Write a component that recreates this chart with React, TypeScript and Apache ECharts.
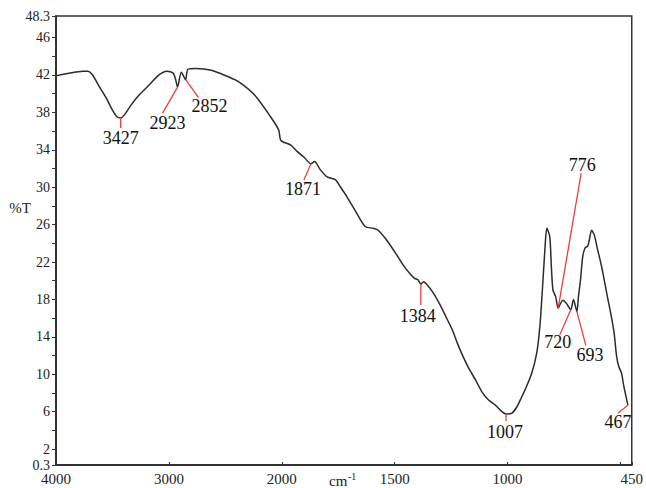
import React, { useEffect, useRef } from "react";
import * as echarts from "echarts";

// FTIR spectrum: wavenumber (cm-1) and transmittance (%T)
const WAVENUMBER = [
  4000, 3877, 3763, 3720, 3676, 3614, 3553, 3500, 3457, 3427, 3396, 3334, 3264,
  3177, 3088, 3018, 2962, 2942, 2923, 2890, 2852, 2832, 2766, 2624, 2474, 2387,
  2241, 2098, 2027, 2008, 1960, 1931, 1901, 1871, 1855, 1829, 1799, 1763, 1741,
  1712, 1668, 1631, 1595, 1573, 1536, 1492, 1463, 1434, 1412, 1397, 1384, 1372,
  1361, 1332, 1303, 1273, 1244, 1222, 1200, 1171, 1142, 1113, 1084, 1054, 1025,
  1007, 981, 959, 937, 923, 893, 871, 857, 843, 832, 826, 813, 806, 799, 787,
  776, 765, 755, 740, 720, 708, 693, 686, 677, 667, 657, 645, 638, 628, 616,
  601, 587, 572, 558, 543, 528, 517, 507, 495, 485, 467,
];
const TRANSMITTANCE = [
  41.9, 42.2, 42.4, 42.4, 42.0, 40.7, 39.5, 38.25, 37.5, 37.4, 37.7, 38.8, 39.85,
  40.9, 42.0, 42.4, 42.2, 41.6, 40.7, 42.3, 41.5, 42.6, 42.7, 42.5, 41.8, 41.3,
  39.85, 37.5, 36.1, 35.0, 34.5, 33.8, 33.2, 32.5, 32.75, 31.85, 31.1, 30.8, 30.05,
  29.0, 27.2, 25.8, 25.6, 25.4, 24.35, 22.8, 21.7, 20.8, 20.25, 20.1, 19.65, 19.9,
  19.7, 18.8, 17.6, 16.15, 14.7, 13.3, 12.05, 10.6, 9.4, 8.1, 7.25, 6.7, 6.0,
  5.75, 5.85, 6.5, 7.6, 8.3, 10.1, 12.25, 15.1, 20.1, 24.35, 25.6, 24.7, 21.5, 19.0, 18.3,
  17.05, 17.6, 17.9, 17.6, 16.9, 18.0, 16.7, 18.3, 20.1, 22.6, 23.5, 23.7, 24.35, 25.4, 24.9,
  23.3, 21.9, 20.1, 18.3, 16.5, 14.4, 11.9, 10.8, 10.1, 8.7, 6.7,
];

// Labelled absorption bands
const PEAKS = [3427, 2923, 2852, 1871, 1384, 1007, 776, 720, 693, 467];

// Axis ticks
const X_LABELS = [4000, 3000, 2000, 1500, 1000, 450];
const X_TICKS = [4000, 3000, 2000, 1500, 1000, 500, 450];
const Y_LABELS = [0.3, 2, 6, 10, 14, 18, 22, 26, 30, 34, 38, 42, 46, 48.3];
const Y_TICKS = [0.3, 2, 4, 6, 8, 10, 12, 14, 16, 18, 20, 22, 24, 26, 28, 30, 32, 34, 36, 38, 40, 42, 44, 46, 48.3];

// Leader line end and label centre, in pixels relative to the band point
const LEADER_LAYOUT: Record<number, [number, number, number, number]> = {
  3427: [0, 10, 0, 20],
  2923: [-15, 26, -10, 36],
  2852: [13, 18, 24, 26],
  1871: [-7, 16, -8, 25],
  1384: [0, 21, -3, 32],
  1007: [0, 7, -1, 18],
  776: [23, -135, 24, -143],
  720: [-11, 25, -13, 32],
  693: [9, 34, 13, 43],
  467: [-10, 8, -10, 17],
};

// The instrument plots 4000-2000 cm-1 at half the scale of 2000-450 cm-1
const toAxis = (w: number) => (w > 2000 ? 2000 + (w - 2000) / 2 : w);
const fromAxis = (t: number) => (t > 2000 ? 2000 + 2 * (t - 2000) : t);

const SERIF = '"Liberation Serif", "Times New Roman", serif';

export default function App() {
  const ref = useRef<HTMLDivElement>(null);

  useEffect(() => {
    document.body.style.margin = "0";
    if (!ref.current) return;
    const chart = echarts.init(ref.current, undefined, { renderer: "svg" });

    const lineData = WAVENUMBER.map((w, i) => [toAxis(w), TRANSMITTANCE[i]]);
    const peakData = PEAKS.map((w) => [toAxis(w), TRANSMITTANCE[WAVENUMBER.indexOf(w)]]);

    chart.setOption({
      animation: false,
      backgroundColor: "#ffffff",
      grid: {
        left: 56,
        right: 8,
        top: 16,
        bottom: 23,
        show: true,
        borderColor: "#333",
        borderWidth: 1.5,
        backgroundColor: "transparent",
      },
      xAxis: {
        type: "value",
        inverse: true,
        min: 450,
        max: 3000,
        axisLine: { show: true, lineStyle: { color: "#222", width: 1.5 } },
        axisTick: {
          show: true,
          inside: true,
          length: 3,
          customValues: X_TICKS.map(toAxis),
          lineStyle: { color: "#333" },
        },
        axisLabel: {
          customValues: X_LABELS.map(toAxis),
          formatter: (t: number) => String(Math.round(fromAxis(t))),
          color: "#222",
          fontFamily: SERIF,
          fontSize: 15,
          lineHeight: 13,
          margin: 7,
          showMinLabel: true,
          showMaxLabel: true,
        },
        splitLine: { show: false },
      },
      yAxis: {
        type: "value",
        min: 0.3,
        max: 48.3,
        axisLine: { show: true, lineStyle: { color: "#222", width: 1.5 } },
        axisTick: {
          show: true,
          length: 4,
          customValues: Y_TICKS,
          lineStyle: { color: "#333" },
        },
        axisLabel: {
          customValues: Y_LABELS,
          color: "#222",
          fontFamily: SERIF,
          fontSize: 14,
          lineHeight: 11,
          margin: 6,
          showMinLabel: true,
          showMaxLabel: true,
        },
        splitLine: { show: false },
      },
      graphic: [
        {
          type: "text",
          x: 20,
          y: 208,
          style: {
            text: "%T",
            fill: "#222",
            fontFamily: SERIF,
            fontSize: 15,
            align: "center",
            verticalAlign: "middle",
          },
        },
        {
          type: "text",
          x: 329,
          y: 481,
          style: {
            text: "cm",
            fill: "#222",
            fontFamily: SERIF,
            fontSize: 15,
            align: "left",
            verticalAlign: "middle",
          },
        },
        {
          type: "text",
          x: 348,
          y: 476,
          style: {
            text: "-1",
            fill: "#222",
            fontFamily: SERIF,
            fontSize: 10,
            align: "left",
            verticalAlign: "middle",
          },
        },
      ],
      series: [
        {
          type: "line",
          data: lineData,
          showSymbol: false,
          smooth: 0.25,
          lineStyle: { color: "#2b2b2b", width: 1.5 },
          z: 2,
        },
        {
          type: "custom",
          coordinateSystem: "cartesian2d",
          data: peakData,
          z: 3,
          renderItem: (params: any, api: any) => {
            const w = PEAKS[params.dataIndex];
            const [x, y] = api.coord([api.value(0), api.value(1)]);
            const [ex, ey, lx, ly] = LEADER_LAYOUT[w];
            return {
              type: "group",
              children: [
                {
                  type: "line",
                  shape: { x1: x, y1: y, x2: x + ex, y2: y + ey },
                  style: { stroke: "#f03c3c", lineWidth: 1.3 },
                },
                {
                  type: "text",
                  x: x + lx,
                  y: y + ly,
                  style: {
                    text: String(w),
                    fill: "#111",
                    fontFamily: SERIF,
                    fontSize: 18,
                    align: "center",
                    verticalAlign: "middle",
                  },
                },
              ],
            };
          },
        },
      ],
    });

    return () => chart.dispose();
  }, []);

  return <div ref={ref} style={{ width: 646, height: 488 }} />;
}
